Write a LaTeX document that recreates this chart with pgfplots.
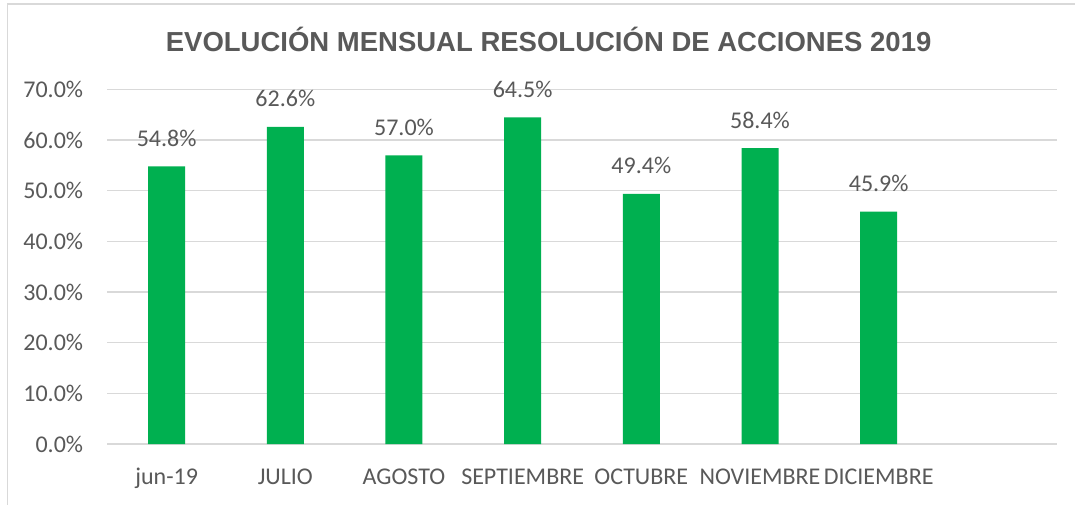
\documentclass[border=0pt]{standalone}
\usepackage{pgfplots}
\pgfplotsset{compat=1.18}
\usepackage{fontspec}
\setmainfont{Carlito}
\newfontfamily\titlefont{Liberation Sans}
\definecolor{bargreen}{HTML}{00B050}
\definecolor{txtgray}{HTML}{595959}
\definecolor{gridgray}{HTML}{D9D9D9}
\begin{document}
\begin{tikzpicture}[x=1pt,y=1pt]
\clip (0,0) rectangle (1075,504);
\fill[white] (0,0) rectangle (1075,504);
\draw[gridgray, line width=1.2pt] (7.5,-10) -- (7.5,500) -- (1090,500);
\node[anchor=base, text=txtgray, font=\titlefont\bfseries\fontsize{27.5}{32}\selectfont, inner sep=0pt]
  at (548.6,452) {EVOLUCIÓN MENSUAL RESOLUCIÓN DE ACCIONES 2019};
\begin{axis}[
  at={(107.3pt,60pt)}, anchor=south west,
  width=949.4pt, height=354.5pt, scale only axis,
  xmin=-0.5, xmax=7.5, ymin=0, ymax=70,
  ybar, bar width=37pt,
  axis line style={draw=none},
  major tick length=0pt,
  ymajorgrids, grid style={gridgray, line width=1.3pt},
  ytick={0,10,...,70},
  xtick={0,1,2,3,4,5,6},
  xticklabels={jun-19,JULIO,AGOSTO,SEPTIEMBRE,OCTUBRE,NOVIEMBRE,DICIEMBRE},
  /pgf/number format/assume math mode=true,
  yticklabel={\pgfmathprintnumber[fixed,fixed zerofill,precision=1]{\tick}\%},
  yticklabel style={anchor=east, inner sep=0pt, xshift=-24pt, text=txtgray, font=\fontsize{24}{28}\selectfont},
  xticklabel style={anchor=base, inner sep=0pt, yshift=-40pt, text=txtgray, font=\fontsize{24}{28}\selectfont},
  nodes near coords={\pgfmathprintnumber[fixed,fixed zerofill,precision=1]{\pgfplotspointmeta}\%},
  every node near coord/.append style={anchor=base, inner sep=0pt, yshift=20pt, text=txtgray, font=\fontsize{24}{28}\selectfont},
  clip=false,
]
\addplot[fill=bargreen, draw=none] coordinates {
  (0,54.8) (1,62.6) (2,57.0) (3,64.5) (4,49.4) (5,58.4) (6,45.9)
};
\end{axis}
\end{tikzpicture}
\end{document}
